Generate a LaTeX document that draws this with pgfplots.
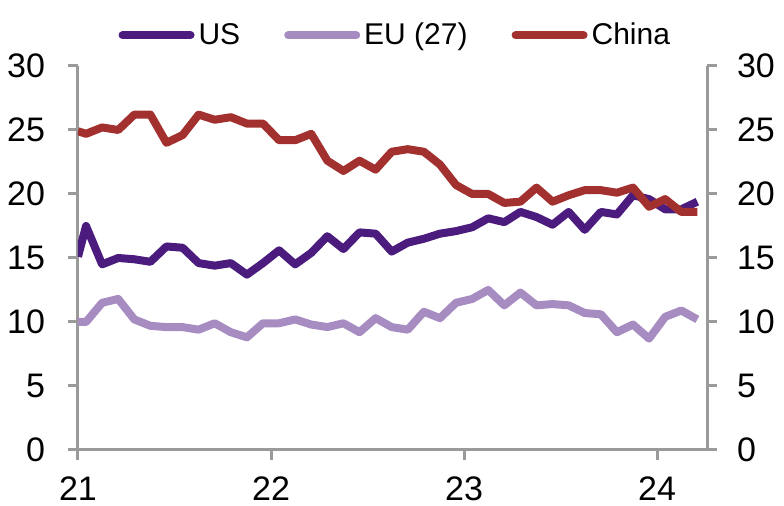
\documentclass[border=0pt]{standalone}
\usepackage{fontspec}
\setmainfont{Liberation Sans}
\usepackage{pgfplots}
\pgfplotsset{compat=1.18}

\definecolor{usc}{HTML}{4B1C7D}
\definecolor{euc}{HTML}{A68CC0}
\definecolor{cnc}{HTML}{A2302E}
\definecolor{axc}{HTML}{9A9A9A}

% x = months since Jan 2021 (monthly points at mid-month)
\pgfplotsset{
  base/.style={
    at={(39pt,28pt)}, anchor=south west,
    scale only axis, width=314.5pt, height=192pt,
    xmin=0, xmax=39.1, ymin=0, ymax=30,
    ytick={0,5,...,30},
    tick align=outside, major tick length=5pt,
    tick style={axc, line width=1.5pt},
    axis line style={-, axc, line width=1.5pt},
    ticklabel style={font=\fontsize{17}{17}\selectfont},
    /pgf/number format/assume math mode=true,
  },
  ser/.style={line width=4pt, line join=round, no markers},
}

\begin{document}
\begin{tikzpicture}
\path[use as bounding box] (0,0) rectangle (392pt,253pt);

\begin{axis}[base,
  axis x line*=bottom, axis y line*=left,
  xtick={0,12,24,36}, xticklabels={21,22,23,24},
  xticklabel style={yshift=-5pt},
  yticklabel style={xshift=-8pt},
  legend columns=3,
  legend style={at={(0.506,1)}, anchor=south, yshift=5pt, draw=none, fill=none,
    font=\fontsize{15}{15}\selectfont,
    /tikz/every even column/.append style={column sep=20pt}},
  legend image code/.code={\draw[#1, line width=4pt, line cap=round] (0pt,0pt) -- (34pt,0pt);},
]
\addplot[ser, usc] coordinates {
(0,15.1) (0.5,17.5) (1.5,14.5) (2.5,15.0) (3.5,14.9) (4.5,14.7) (5.5,15.9) (6.5,15.8)
(7.5,14.6) (8.5,14.4) (9.5,14.6) (10.5,13.7) (11.5,14.6) (12.5,15.6) (13.5,14.5)
(14.5,15.4) (15.5,16.7) (16.5,15.7) (17.5,17.0) (18.5,16.9) (19.5,15.5) (20.5,16.2)
(21.5,16.5) (22.5,16.9) (23.5,17.1) (24.5,17.4) (25.5,18.1) (26.5,17.8) (27.5,18.6)
(28.5,18.2) (29.5,17.6) (30.5,18.6) (31.5,17.2) (32.5,18.6) (33.5,18.4) (34.5,19.9)
(35.5,19.6) (36.5,18.8) (37.5,18.8) (38.5,19.4)
};
\addlegendentry{US}
\addplot[ser, euc] coordinates {
(0,10.0) (0.5,10.0) (1.5,11.5) (2.5,11.8) (3.5,10.2) (4.5,9.7) (5.5,9.6) (6.5,9.6)
(7.5,9.4) (8.5,9.9) (9.5,9.2) (10.5,8.8) (11.5,9.9) (12.5,9.9) (13.5,10.2) (14.5,9.8)
(15.5,9.6) (16.5,9.9) (17.5,9.2) (18.5,10.3) (19.5,9.6) (20.5,9.4) (21.5,10.8)
(22.5,10.3) (23.5,11.5) (24.5,11.8) (25.5,12.5) (26.5,11.3) (27.5,12.3) (28.5,11.3)
(29.5,11.4) (30.5,11.3) (31.5,10.7) (32.5,10.6) (33.5,9.2) (34.5,9.8) (35.5,8.7)
(36.5,10.4) (37.5,10.9) (38.5,10.2)
};
\addlegendentry{EU (27)}
\addplot[ser, cnc] coordinates {
(0,24.9) (0.5,24.7) (1.5,25.2) (2.5,25.0) (3.5,26.2) (4.5,26.2) (5.5,24.0) (6.5,24.6)
(7.5,26.2) (8.5,25.8) (9.5,26.0) (10.5,25.5) (11.5,25.5) (12.5,24.2) (13.5,24.2)
(14.5,24.7) (15.5,22.6) (16.5,21.8) (17.5,22.6) (18.5,21.9) (19.5,23.3) (20.5,23.5)
(21.5,23.3) (22.5,22.3) (23.5,20.7) (24.5,20.0) (25.5,20.0) (26.5,19.3) (27.5,19.4)
(28.5,20.5) (29.5,19.4) (30.5,19.9) (31.5,20.3) (32.5,20.3) (33.5,20.1) (34.5,20.5)
(35.5,19.0) (36.5,19.6) (37.5,18.6) (38.5,18.6)
};
\addlegendentry{China}
\end{axis}

\begin{axis}[base,
  axis x line=none, axis y line*=right,
  yticklabel style={xshift=6.5pt},
]
\end{axis}
\end{tikzpicture}
\end{document}
